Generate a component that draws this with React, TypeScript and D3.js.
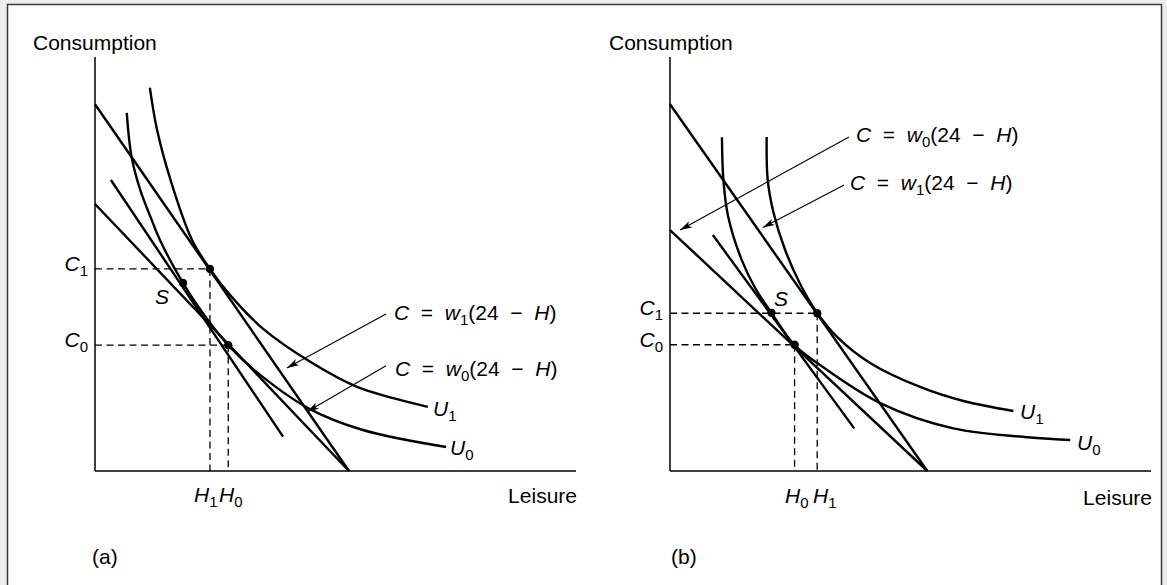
import React from 'react';
import * as d3 from 'd3';

const W = 1167;
const H = 585;

// readings in axis units: leisure 0–100 along the x axis, consumption 0–100 up the y axis
// panel (a)
const u1A: [number, number][] = [[11.4, 92.6], [12.9, 82.4], [15.7, 70.3], [20.1, 56.0], [23.9, 48.8], [28, 42.6], [34.9, 34.4], [45, 26.2], [54.5, 20.3], [62, 17.6], [69.2, 15.5]];
const u0A: [number, number][] = [[6.6, 86.5], [7.6, 75.9], [9.4, 67.9], [11.8, 60.6], [13.5, 55.8], [18.3, 45.4], [22.5, 38.0], [27.7, 30.4], [33, 24.5], [44.3, 15.2], [55.7, 9.9], [73.0, 5.8]];
const wageHighA: [number, number][] = [[0, 88.6], [52.8, 0]];
const wageLowA: [number, number][] = [[0, 64.5], [52.8, 0]];
const compA: [number, number][] = [[3.3, 70.3], [39.1, 8.3]];
const consA = [48.8, 30.4]; // C1, C0
const leisA = [23.9, 27.7]; // H1, H0
const sA: [number, number] = [18.3, 45.4];
const arrowsA: [number, number][][] = [[[60.5, 37.9], [39.9, 24.9]], [[60.5, 25.4], [44.1, 14.3]]];

// panel (b)
const u1B: [number, number][] = [[20.1, 80.7], [20.3, 70.5], [21.5, 62.5], [23.9, 53.5], [27, 45.3], [30.6, 38.2], [35, 32.1], [41.6, 26.1], [52, 20.3], [61, 16.9], [71.4, 14.5]];
const u0B: [number, number][] = [[10.8, 80.6], [11.1, 70.3], [12.1, 61.4], [14.9, 51.0], [17.8, 44.0], [21.1, 38.2], [25.9, 30.4], [31.2, 25.6], [43.7, 16.4], [58.9, 10.3], [83.2, 7.5]];
const wageHighB: [number, number][] = [[0, 88.6], [53.5, 0]];
const wageLowB: [number, number][] = [[0, 58.2], [53.5, 0]];
const compB: [number, number][] = [[8.9, 57.0], [38.3, 10.3]];
const consB = [38.1, 30.5]; // C1, C0
const leisB = [30.6, 25.9]; // H1, H0
const sB: [number, number] = [21.1, 38.2];
const arrowsB: [number, number][][] = [[[37.2, 80.7], [2.1, 58.2]], [[36.2, 69.1], [19.3, 58.8]]];

const FONT = "'Liberation Sans', Arial, Helvetica, sans-serif";
const FS = 21;
const SUB = 15;

function Sub({x, y, base, sub, anchor = 'start'}: {x: number, y: number, base: string, sub: string, anchor?: string}) {
    return (
        <text x={x} y={y} fontSize={FS} textAnchor={anchor}>
            <tspan fontStyle="italic">{base}</tspan>
            <tspan fontSize={SUB} dy={5}>{sub}</tspan>
        </text>
    );
}

function Eq({x, y, sub}: {x: number, y: number, sub: string}) {
    return (
        <text x={x} y={y} fontSize={FS} style={{whiteSpace: 'pre'}}>
            <tspan fontStyle="italic">C</tspan>
            <tspan>{'  =  '}</tspan>
            <tspan fontStyle="italic">w</tspan>
            <tspan fontSize={SUB} dy={5}>{sub}</tspan>
            <tspan dy={-5}>{'(24  −  '}</tspan>
            <tspan fontStyle="italic">H</tspan>
            <tspan>)</tspan>
        </text>
    );
}

interface PanelProps {
    left: number,
    u1: [number, number][],
    u0: [number, number][],
    wHigh: [number, number][],
    wLow: [number, number][],
    comp: [number, number][],
    cons: number[],
    leis: number[],
    s: [number, number],
    arrows: [number, number][][],
}

function Panel({left, u1, u0, wHigh, wLow, comp, cons, leis, s, arrows}: PanelProps) {
    const x = d3.scaleLinear().domain([0, 100]).range([left, left + 481]);
    const y = d3.scaleLinear().domain([0, 100]).range([471, 57]);
    const curve = d3.line<[number, number]>()
        .x(d => x(d[0]))
        .y(d => y(d[1]))
        .curve(d3.curveCatmullRom.alpha(0.5));
    const straight = d3.line<[number, number]>().x(d => x(d[0])).y(d => y(d[1]));
    const [c1, c0] = cons;
    const [h1, h0] = leis;
    const dots: [number, number][] = [[h1, c1], [h0, c0], s];
    return (
        <g>
            <line x1={x(0)} y1={y(100)} x2={x(0)} y2={y(0)} stroke="#000" strokeWidth={1.5}/>
            <line x1={x(0)} y1={y(0)} x2={x(100)} y2={y(0)} stroke="#000" strokeWidth={1.5}/>
            <g stroke="#000" strokeWidth={1.3} strokeDasharray="7,4.5" fill="none">
                <line x1={x(0)} y1={y(c1)} x2={x(h1)} y2={y(c1)}/>
                <line x1={x(0)} y1={y(c0)} x2={x(h0)} y2={y(c0)}/>
                <line x1={x(h1)} y1={y(c1)} x2={x(h1)} y2={y(0)}/>
                <line x1={x(h0)} y1={y(c0)} x2={x(h0)} y2={y(0)}/>
            </g>
            <g stroke="#000" fill="none" strokeWidth={2.4}>
                <path d={straight(wHigh) || ''}/>
                <path d={straight(wLow) || ''}/>
                <path d={straight(comp) || ''}/>
                <path d={curve(u1) || ''}/>
                <path d={curve(u0) || ''}/>
            </g>
            <g stroke="#000" strokeWidth={1.1}>
                {arrows.map((a, i) => (
                    <line key={i} x1={x(a[0][0])} y1={y(a[0][1])} x2={x(a[1][0])} y2={y(a[1][1])} markerEnd="url(#arr)"/>
                ))}
            </g>
            {dots.map((d, i) => (
                <circle key={i} cx={x(d[0])} cy={y(d[1])} r={4.2} fill="#000"/>
            ))}
        </g>
    );
}

export default function App() {
    return (
        <svg width={W} height={H} style={{position: 'absolute', left: 0, top: 0, fontFamily: FONT}}>
            <defs>
                <marker id="arr" viewBox="0 0 12 8" refX={12} refY={4} markerWidth={12} markerHeight={8}
                        orient="auto" markerUnits="userSpaceOnUse">
                    <path d="M0,0.5 L12,4 L0,7.5 L3,4 Z" fill="#000"/>
                </marker>
            </defs>
            <rect x={0} y={0} width={W} height={H} fill="#ececec"/>
            <rect x={7.5} y={4.5} width={1154} height={H + 10} fill="#fff" stroke="#3a3a3a" strokeWidth={1.5}/>

            <Panel left={95} u1={u1A} u0={u0A} wHigh={wageHighA} wLow={wageLowA} comp={compA}
                   cons={consA} leis={leisA} s={sA} arrows={arrowsA}/>
            <Panel left={670} u1={u1B} u0={u0B} wHigh={wageHighB} wLow={wageLowB} comp={compB}
                   cons={consB} leis={leisB} s={sB} arrows={arrowsB}/>

            {/* panel (a) text */}
            <text x={33} y={50} fontSize={FS}>Consumption</text>
            <text x={577} y={503} fontSize={FS} textAnchor="end">Leisure</text>
            <Sub x={88} y={271} base="C" sub="1" anchor="end"/>
            <Sub x={88} y={347} base="C" sub="0" anchor="end"/>
            <Sub x={194} y={502} base="H" sub="1"/>
            <Sub x={219} y={502} base="H" sub="0"/>
            <text x={155} y={304} fontSize={FS} fontStyle="italic">S</text>
            <Sub x={433} y={416} base="U" sub="1"/>
            <Sub x={450} y={455} base="U" sub="0"/>
            <Eq x={394} y={320} sub="1"/>
            <Eq x={395} y={376} sub="0"/>
            <text x={92} y={564} fontSize={FS}>(a)</text>

            {/* panel (b) text */}
            <text x={609} y={50} fontSize={FS}>Consumption</text>
            <text x={1152} y={505} fontSize={FS} textAnchor="end">Leisure</text>
            <Sub x={663} y={315} base="C" sub="1" anchor="end"/>
            <Sub x={663} y={347} base="C" sub="0" anchor="end"/>
            <Sub x={785} y={503} base="H" sub="0"/>
            <Sub x={813} y={503} base="H" sub="1"/>
            <text x={774} y={306} fontSize={FS} fontStyle="italic">S</text>
            <Sub x={1020} y={419} base="U" sub="1"/>
            <Sub x={1077} y={450} base="U" sub="0"/>
            <Eq x={856} y={142} sub="0"/>
            <Eq x={850} y={190} sub="1"/>
            <text x={671} y={564} fontSize={FS}>(b)</text>
        </svg>
    );
}
